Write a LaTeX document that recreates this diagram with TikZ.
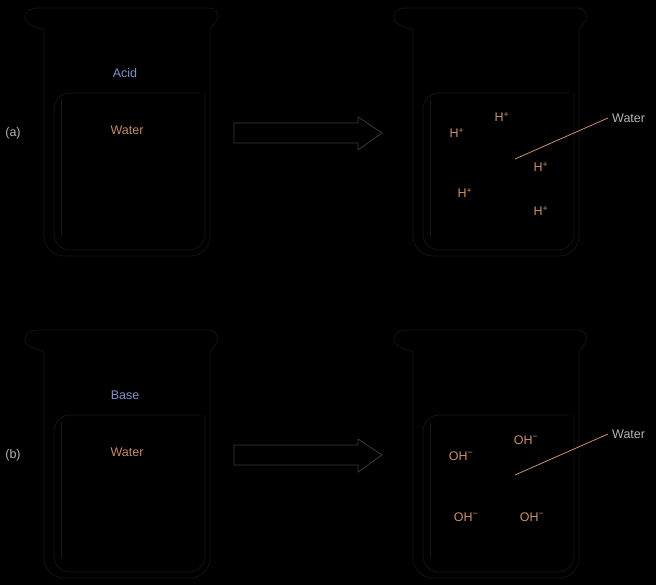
\documentclass[tikz,border=0pt]{standalone}
\usepackage{fontspec}
\setmainfont{Liberation Sans}
\usetikzlibrary{positioning}
\definecolor{glass}{HTML}{151515}
\definecolor{liquidline}{HTML}{1E1612}
\definecolor{arrowgray}{HTML}{3A3A3A}
\definecolor{solblue}{HTML}{7F90C8}
\definecolor{waterorange}{HTML}{C48A66}
\definecolor{ionorange}{HTML}{C8906A}
\definecolor{labelgray}{HTML}{B4B4B4}

\begin{document}
\begin{tikzpicture}[x=1pt, y=-1pt, font=\fontsize{12.5}{14}\selectfont,
    beaker/.style={draw=glass, line width=0.7pt},
    liquid/.style={draw=liquidline, line width=0.7pt},
    blockarrow/.style={draw=arrowgray, line width=0.8pt},
    lbl/.style={text=labelgray, inner sep=0pt},
    solute/.style={text=solblue, inner sep=0pt},
    water/.style={text=waterorange, inner sep=0pt},
    ion/.style={text=ionorange, inner sep=0pt},
    leader/.style={draw=ionorange, line width=0.8pt}]
    \fill[black] (0,0) rectangle (656,585);
    \useasboundingbox (0,0) rectangle (656,585);

    % two rows: acid and base
    \foreach \dy/\row/\sol in {0/a/Acid, 322/b/Base} {
        \begin{scope}[yshift=-\dy pt]
            % beakers before and after
            \foreach \dx in {0,369} {
                \begin{scope}[xshift=\dx pt]
                    \draw[beaker, rounded corners=20] (44,30) -- (44,256) -- (210,256) -- (210,30);
                    \draw[beaker] (44,30) .. controls (34,26) and (24,24) .. (25,17)
                        .. controls (26,10) and (31,8) .. (38,8) -- (208,8)
                        .. controls (216,8) and (219,14) .. (217,20) -- (210,30);
                    \draw[liquid, rounded corners=16] (200,93) -- (54,93) -- (54,250) -- (205,250) -- (205,93);
                    \draw[liquid] (61,100) -- (61,236);
                \end{scope}
            }
            \draw[blockarrow] (234,123) -- (358,123) -- (358,117) -- (382,133)
                -- (358,150) -- (358,143) -- (234,143) -- cycle;
            \node[lbl] (lab\row) at (13,133) {(\row)};
            \node[solute] (sol\row) at (125,73) {\sol};
            \node[water] (wat\row) at (127,130) {Water};
        \end{scope}
    }

    % acid side
    \node[ion] (h1) at (457,133) {H\textsuperscript{+}};
    \node[ion] (h2) at (502,117) {H\textsuperscript{+}};
    \node[ion] (h3) at (541,167) {H\textsuperscript{+}};
    \node[ion] (h4) at (465,193) {H\textsuperscript{+}};
    \node[ion] (h5) at (541,211) {H\textsuperscript{+}};
    \coordinate (inA) at (515,159);
    \node[lbl, anchor=west, inner xsep=4pt] (outa) at (608,118) {Water};
    \draw[leader] (inA) -- (outa.west);

    % base side
    \node[ion] (oh1) at (461,456) {OH\textsuperscript{−}};
    \node[ion] (oh2) at (526,440) {OH\textsuperscript{−}};
    \node[ion] (oh3) at (466,517) {OH\textsuperscript{−}};
    \node[ion] (oh4) at (532,517) {OH\textsuperscript{−}};
    \coordinate (inB) at (515,475);
    \node[lbl, anchor=west, inner xsep=4pt] (outb) at (608,434) {Water};
    \draw[leader] (inB) -- (outb.west);
\end{tikzpicture}
\end{document}
